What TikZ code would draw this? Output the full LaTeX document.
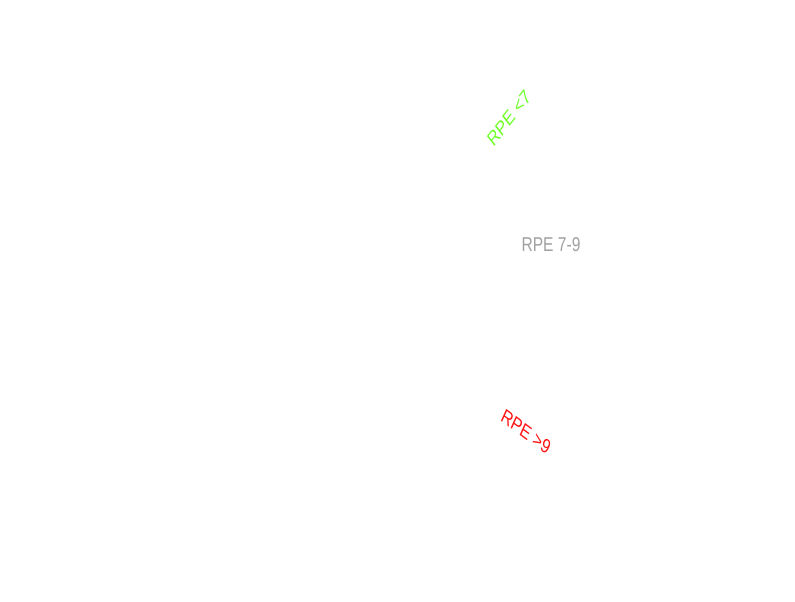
\documentclass[tikz,border=0pt]{standalone}
\usepackage{fontspec}
\setmainfont{Liberation Sans}
\definecolor{rpelow}{RGB}{110,255,40}
\definecolor{rpemid}{RGB}{160,160,160}
\definecolor{rpehigh}{RGB}{255,20,20}
\tikzset{
  rpe label/.style={font=\fontsize{20}{20}\selectfont, xscale=0.78, inner sep=0pt}
}
\begin{document}
\begin{tikzpicture}[x=1pt, y=1pt]
  \useasboundingbox (0,0) rectangle (795,602);
  % zone labels
  \node[rpe label, text=rpelow, rotate=45] (low) at (509,484) {RPE <7};
  \node[rpe label, text=rpemid] (mid) at (551,357) {RPE 7-9};
  \node[rpe label, text=rpehigh, rotate=-30] (high) at (526,170) {RPE >9};
\end{tikzpicture}
\end{document}
